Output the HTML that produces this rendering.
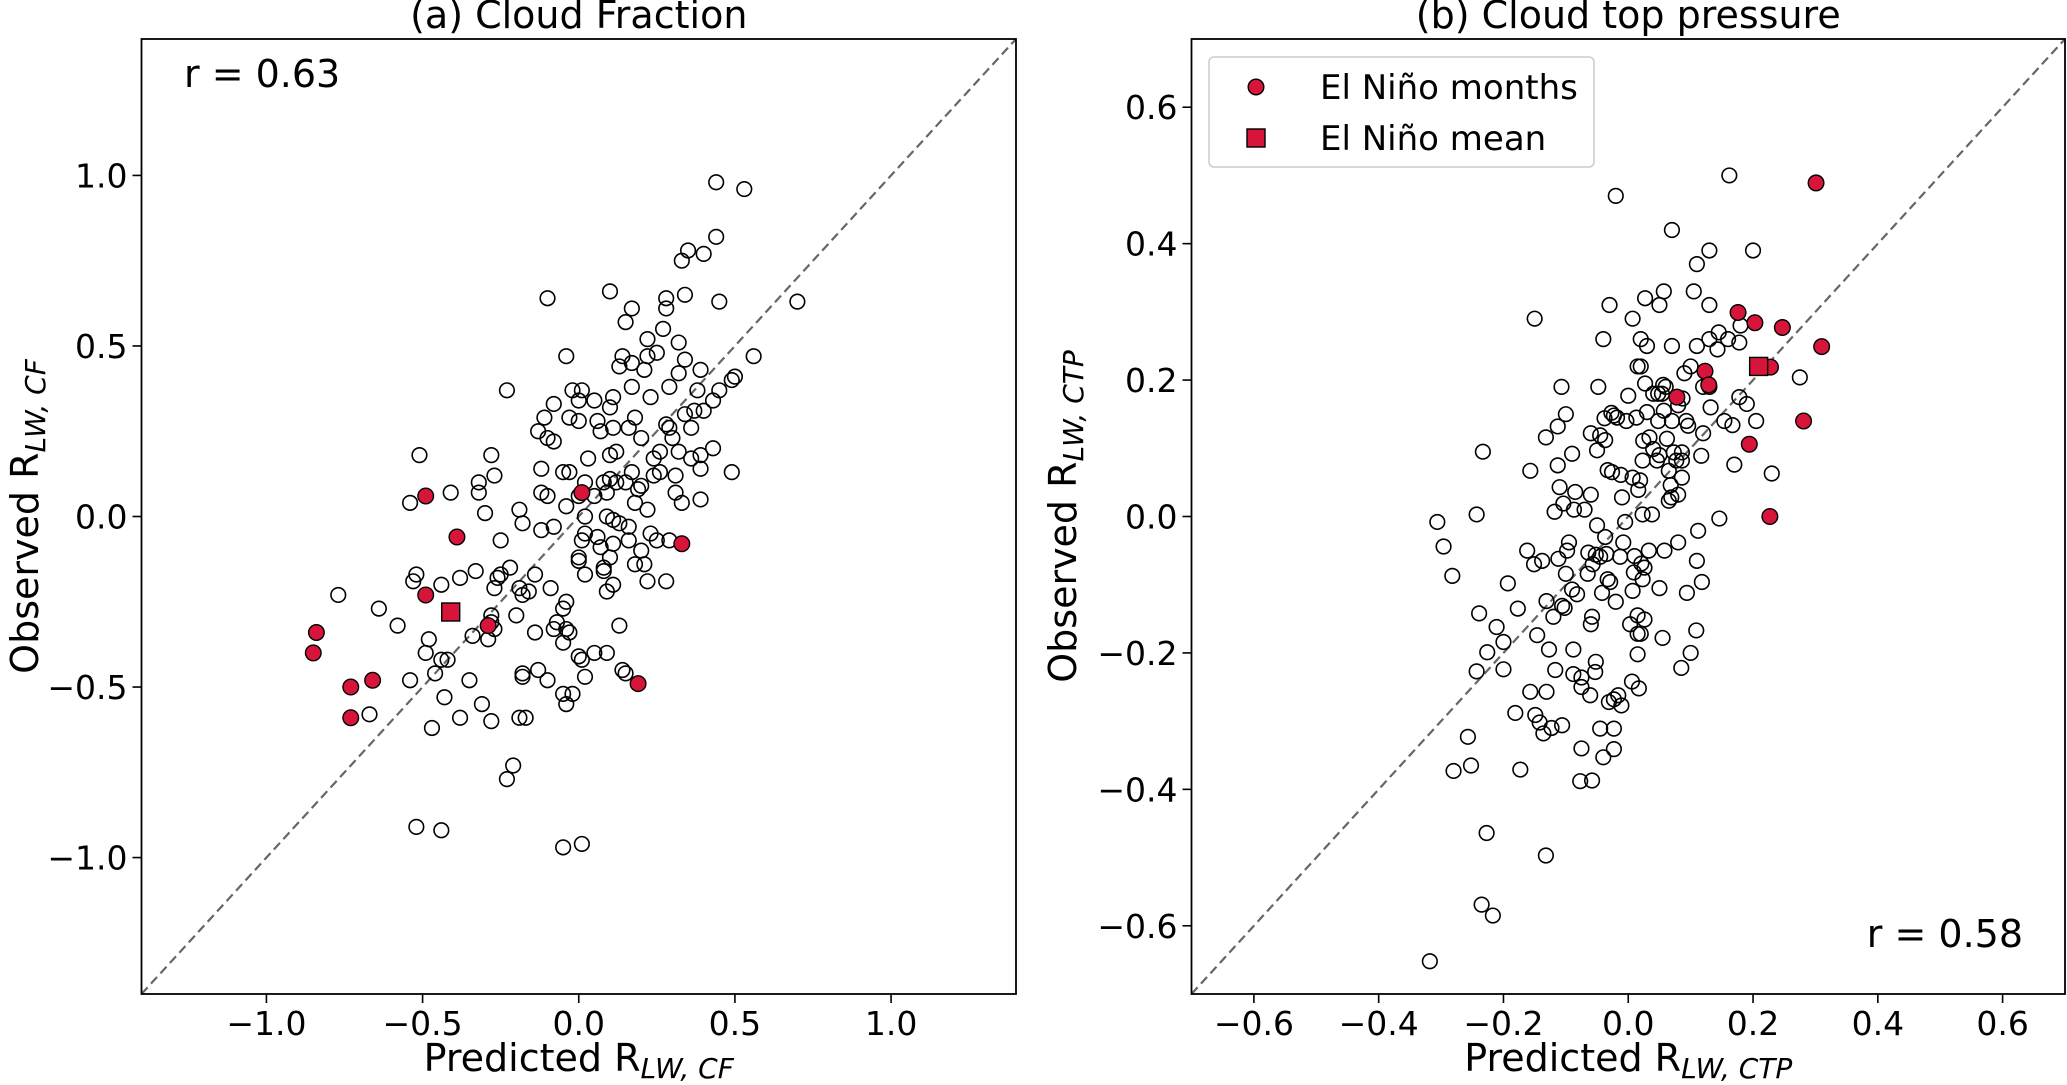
<!DOCTYPE html>
<html><head><meta charset="utf-8"><style>
html,body{margin:0;padding:0;background:#fff;}
svg{display:block;font-family:"DejaVu Sans","Liberation Sans",sans-serif;}
</style></head><body>
<svg id="fig" width="2067" height="1085" viewBox="0 0 2067 1085" xmlns="http://www.w3.org/2000/svg"></svg>
<script>
// Panel (a) Cloud Fraction data
const cfOpenX=[0.44,0.53,0.44,0.35,0.33,0.40,-0.10,0.10,0.28,0.34,0.45,0.70,0.17,0.28,0.15,0.27,0.22,0.32,-0.04,0.14,0.22,0.25,0.56,0.13,0.17,0.21,0.34,0.39,0.50,0.49,-0.23,-0.02,0.01,0.05,0.11,0,0.17,0.23,0.29,0.32,0.38,0.45,0.43,-0.08,0.10,0.37,0.40,-0.11,-0.03,0,0.06,0.18,0.16,0.28,0.29,0.34,0.36,-0.13,-0.10,-0.08,0.07,0.11,0.30,0.20,0.43,0.32,0.39,0.36,0.03,0.10,0.12,0.24,0.26,-0.12,-0.05,-0.03,0.17,0.24,0.26,0.31,0.39,0.49,0.02,0.08,0.10,0.12,0.15,0.19,0.20,-0.12,-0.10,0,0.05,0.09,0.31,0.33,0.39,0.18,-0.04,0.22,0.02,0.09,-0.19,-0.18,-0.12,-0.08,0.11,0.13,0.16,0.23,0.02,0.01,0.06,-0.25,0.11,0.07,0.16,0.25,0.20,0.29,0,0,0.10,0.08,0.08,0.18,0.21,0.02,0.11,0.22,0.28,0.09,-0.14,-0.09,-0.19,-0.18,-0.16,-0.26,-0.25,-0.27,-0.22,-0.38,-0.33,-0.44,-0.52,-0.53,-0.77,-0.64,-0.58,-0.20,-0.04,-0.05,-0.07,-0.08,-0.04,-0.03,-0.28,-0.28,-0.27,-0.29,-0.34,-0.14,0.13,-0.05,0.05,0.09,0,0.01,-0.48,-0.49,-0.44,-0.42,-0.46,-0.54,-0.35,-0.18,-0.18,-0.13,-0.10,0.02,0.14,0.15,-0.43,-0.05,-0.02,-0.04,-0.31,-0.67,-0.38,-0.28,-0.19,-0.17,-0.47,-0.21,-0.23,-0.52,-0.44,-0.05,0.01,-0.30,-0.27,-0.28,-0.32,-0.32,-0.41,-0.51,-0.54];
const cfOpenY=[0.98,0.96,0.82,0.78,0.75,0.77,0.64,0.66,0.64,0.65,0.63,0.63,0.61,0.61,0.57,0.55,0.52,0.51,0.47,0.47,0.47,0.48,0.47,0.44,0.45,0.43,0.46,0.43,0.41,0.40,0.37,0.37,0.37,0.34,0.35,0.34,0.38,0.35,0.38,0.42,0.37,0.37,0.34,0.33,0.32,0.31,0.31,0.29,0.29,0.28,0.28,0.29,0.26,0.27,0.26,0.30,0.26,0.25,0.23,0.22,0.25,0.26,0.23,0.23,0.20,0.19,0.18,0.17,0.17,0.18,0.19,0.17,0.19,0.14,0.13,0.13,0.13,0.12,0.13,0.12,0.14,0.13,0.10,0.10,0.11,0.10,0.10,0.08,0.09,0.07,0.06,0.06,0.06,0.07,0.07,0.04,0.05,0.04,0.03,0.02,0,0,0.02,-0.02,-0.04,-0.03,-0.01,-0.02,-0.03,-0.05,-0.05,-0.07,-0.06,-0.07,-0.08,-0.09,-0.07,-0.07,-0.10,-0.07,-0.12,-0.13,-0.12,-0.15,-0.16,-0.14,-0.14,-0.17,-0.20,-0.19,-0.19,-0.22,-0.17,-0.21,-0.21,-0.23,-0.22,-0.18,-0.17,-0.21,-0.15,-0.18,-0.16,-0.20,-0.17,-0.19,-0.23,-0.27,-0.32,-0.29,-0.25,-0.27,-0.31,-0.33,-0.33,-0.34,-0.29,-0.31,-0.33,-0.36,-0.35,-0.34,-0.32,-0.37,-0.40,-0.40,-0.41,-0.42,-0.36,-0.40,-0.42,-0.42,-0.46,-0.48,-0.48,-0.46,-0.47,-0.45,-0.48,-0.47,-0.45,-0.46,-0.53,-0.52,-0.52,-0.55,-0.55,-0.58,-0.59,-0.60,-0.59,-0.59,-0.62,-0.73,-0.77,-0.91,-0.92,-0.97,-0.96,0.01,0.12,0.18,0.10,0.07,0.07,0.18,0.04];
const cfRedX=[-0.49,0.01,-0.39,0.33,-0.49,-0.29,-0.84,-0.85,-0.66,-0.73,-0.73,0.19];
const cfRedY=[0.06,0.07,-0.06,-0.08,-0.23,-0.32,-0.34,-0.40,-0.48,-0.50,-0.59,-0.49];
const cfMean=[-0.41,-0.28];
const cfTicks=[-1.0,-0.5,0.0,0.5,1.0];
const cfTickLabels=["\u22121.0","\u22120.5","0.0","0.5","1.0"];

// Panel (b) Cloud top pressure data
const ctpOpenX=[0.162,-0.02,0.07,0.20,0.13,0.11,0.105,0.057,0.027,-0.03,0.05,0.13,0.007,-0.15,0.18,0.02,-0.04,0.03,0.07,0.11,0.13,0.145,0.16,0.178,0.143,0.10,0.015,0.02,0.09,-0.107,-0.048,0.027,0.056,0.06,0.275,0.12,0.13,0.04,0.048,0.054,0,0.087,0.08,0.178,0.19,-0.10,0.03,0.057,-0.027,-0.023,-0.018,-0.003,-0.038,-0.037,0.013,0.048,0.07,0.093,0.096,0.132,0.154,0.167,0.205,-0.113,-0.132,-0.06,-0.045,-0.05,0.024,0.034,0.062,0.12,-0.233,-0.09,0.04,0.05,0.073,0.086,0.086,0.023,0.046,0.077,0.117,-0.157,-0.113,-0.033,-0.026,-0.012,0.007,0.019,0.065,0.086,0.17,0.23,-0.11,-0.085,-0.06,0.016,-0.01,0.068,0.069,0.065,0.08,-0.104,-0.118,-0.087,-0.07,0.023,0.038,-0.243,-0.306,-0.296,-0.282,-0.05,-0.005,0.146,0.112,-0.095,-0.037,-0.008,0.08,-0.162,-0.098,-0.064,-0.052,-0.045,-0.035,-0.013,0.01,0.033,0.058,-0.151,-0.138,-0.112,-0.057,0.021,0.026,0.11,-0.1,-0.065,-0.033,-0.029,0.009,0.023,0.118,-0.193,-0.09,-0.082,-0.042,-0.02,0.007,0.05,0.094,-0.131,-0.106,-0.102,-0.177,-0.12,-0.058,0.015,0.003,0.026,-0.06,-0.239,-0.211,-0.2,-0.146,-0.127,-0.088,0.015,0.02,0.055,0.109,-0.226,0.015,0.1,-0.052,-0.243,-0.2,-0.117,-0.088,-0.053,0.085,-0.075,-0.075,-0.061,-0.157,-0.131,0.006,0.017,-0.016,-0.023,-0.031,-0.011,-0.181,-0.149,-0.142,-0.136,-0.106,-0.123,-0.045,-0.023,-0.257,-0.075,-0.023,-0.04,-0.252,-0.28,-0.173,-0.077,-0.058,-0.227,-0.132,-0.235,-0.217,-0.318];
const ctpOpenY=[0.50,0.47,0.42,0.39,0.39,0.37,0.33,0.33,0.32,0.31,0.31,0.31,0.29,0.29,0.28,0.26,0.26,0.25,0.25,0.25,0.26,0.27,0.26,0.255,0.245,0.22,0.22,0.22,0.21,0.19,0.19,0.195,0.193,0.19,0.204,0.19,0.19,0.18,0.18,0.18,0.177,0.173,0.163,0.175,0.165,0.15,0.153,0.155,0.152,0.148,0.145,0.14,0.144,0.112,0.145,0.14,0.14,0.14,0.133,0.16,0.14,0.134,0.14,0.132,0.116,0.122,0.119,0.097,0.111,0.116,0.114,0.122,0.095,0.092,0.099,0.09,0.094,0.094,0.082,0.082,0.082,0.082,0.089,0.067,0.075,0.068,0.065,0.061,0.057,0.053,0.067,0.057,0.076,0.063,0.043,0.036,0.032,0.039,0.028,0.046,0.028,0.023,0.032,0.019,0.007,0.01,0.01,0.003,0.003,0.003,-0.008,-0.044,-0.087,-0.013,-0.008,-0.003,-0.021,-0.038,-0.03,-0.038,-0.038,-0.05,-0.05,-0.053,-0.056,-0.059,-0.055,-0.059,-0.058,-0.05,-0.05,-0.07,-0.065,-0.062,-0.07,-0.069,-0.075,-0.065,-0.084,-0.084,-0.092,-0.096,-0.082,-0.092,-0.096,-0.098,-0.107,-0.114,-0.112,-0.125,-0.109,-0.105,-0.112,-0.124,-0.131,-0.134,-0.135,-0.147,-0.147,-0.145,-0.158,-0.151,-0.158,-0.142,-0.162,-0.184,-0.174,-0.195,-0.195,-0.172,-0.172,-0.178,-0.167,-0.199,-0.202,-0.2,-0.213,-0.227,-0.224,-0.225,-0.231,-0.228,-0.222,-0.236,-0.25,-0.262,-0.257,-0.257,-0.242,-0.252,-0.262,-0.268,-0.272,-0.277,-0.288,-0.291,-0.302,-0.318,-0.306,-0.31,-0.311,-0.311,-0.323,-0.34,-0.341,-0.353,-0.365,-0.373,-0.371,-0.388,-0.387,-0.464,-0.497,-0.569,-0.585,-0.652];
const ctpRedX=[0.301,0.176,0.203,0.247,0.31,0.123,0.129,0.078,0.228,0.281,0.194,0.227];
const ctpRedY=[0.489,0.299,0.284,0.277,0.249,0.213,0.193,0.175,0.219,0.14,0.106,0.0];
const ctpMean=[0.209,0.22];
const ctpTicks=[-0.6,-0.4,-0.2,0.0,0.2,0.4,0.6];
const ctpTickLabels=["\u22120.6","\u22120.4","\u22120.2","0.0","0.2","0.4","0.6"];

const NS="http://www.w3.org/2000/svg";
const svg=document.getElementById('fig');
function mk(tag,attrs,parent){const e=document.createElementNS(NS,tag);for(const k in attrs)e.setAttribute(k,attrs[k]);(parent||svg).appendChild(e);return e;}
const RED="#d7153a";
const FS=33, BIG=38;

function panel(cfg){
  const g=mk('g',{});
  
  
  const sx=v=>cfg.x0+(v-cfg.min)/(cfg.max-cfg.min)*(cfg.x1-cfg.x0);
  const sy=v=>cfg.y1-(v-cfg.min)/(cfg.max-cfg.min)*(cfg.y1-cfg.y0);
  const d=mk('line',{x1:sx(cfg.min),y1:sy(cfg.min),x2:sx(cfg.max),y2:sy(cfg.max),stroke:'#666',"stroke-width":2.2,"stroke-dasharray":"9,5"},g);
  
  
  cfg.ticks.forEach((t,i)=>{
    const tx=mk('line',{x1:sx(t),x2:sx(t),y1:cfg.y1,y2:cfg.y1+9,stroke:'#000',"stroke-width":1.6},g);
    
    
    const lx=mk('text',{x:sx(t),y:cfg.y1+41,"font-size":FS,"text-anchor":"middle"},g);
    lx.textContent=cfg.labels[i];
    
    
    const ty=mk('line',{x1:cfg.x0-9,x2:cfg.x0,y1:sy(t),y2:sy(t),stroke:'#000',"stroke-width":1.6},g);
    
    
    const ly=mk('text',{x:cfg.x0-14,y:sy(t)+12,"font-size":FS,"text-anchor":"end"},g);
    ly.textContent=cfg.labels[i];
    
    
  });
  cfg.ox.forEach((v,i)=>{
    const c=mk('circle',{cx:sx(v),cy:sy(cfg.oy[i]),r:7.3,fill:'none',stroke:'#000',"stroke-width":1.6},g);
    
    
  });
  cfg.rx.forEach((v,i)=>{
    const c=mk('circle',{cx:sx(v),cy:sy(cfg.ry[i]),r:7.8,fill:RED,stroke:'#000',"stroke-width":1.4},g);
    
    
  });
  const m=mk('rect',{x:sx(cfg.mean[0])-9,y:sy(cfg.mean[1])-9,width:18,height:18,fill:RED,stroke:'#000',"stroke-width":1.4},g);
  
  
  const f=mk('rect',{x:cfg.x0,y:cfg.y0,width:cfg.x1-cfg.x0,height:cfg.y1-cfg.y0,fill:'none',stroke:'#000',"stroke-width":1.8},g);
  
  
  const cx=(cfg.x0+cfg.x1)/2;
  const ti=mk('text',{x:cx,y:28,"font-size":BIG,"text-anchor":"middle"},g);
  ti.textContent=cfg.title;
  
  
  const xl=mk('text',{x:cx,y:1071,"font-size":BIG,"text-anchor":"middle"},g);
  xl.innerHTML='Predicted R<tspan font-style="italic" font-size="28" dy="7">'+cfg.sub+'</tspan>';
  
  
  const yl=mk('text',{x:0,y:0,"font-size":BIG,"text-anchor":"middle",transform:'translate('+cfg.ylx+','+((cfg.y0+cfg.y1)/2)+') rotate(-90)'},g);
  yl.innerHTML='Observed R<tspan font-style="italic" font-size="28" dy="7">'+cfg.sub+'</tspan>';
  
  
  const rt=mk('text',{x:cfg.rX,y:cfg.rY,"font-size":BIG,"text-anchor":cfg.rAnchor},g);
  rt.textContent=cfg.rText;
  
  
}
panel({name:'panel-cloud-fraction',x0:141.5,x1:1016,y0:39,y1:994,min:-1.4,max:1.4,ticks:cfTicks,labels:cfTickLabels,ox:cfOpenX,oy:cfOpenY,rx:cfRedX,ry:cfRedY,mean:cfMean,title:'(a) Cloud Fraction',sub:'LW, CF',ylx:38,rText:'r = 0.63',rX:184,rY:87,rAnchor:'start'});
panel({name:'panel-cloud-top-pressure',x0:1191.5,x1:2065,y0:39,y1:994,min:-0.7,max:0.7,ticks:ctpTicks,labels:ctpTickLabels,ox:ctpOpenX,oy:ctpOpenY,rx:ctpRedX,ry:ctpRedY,mean:ctpMean,title:'(b) Cloud top pressure',sub:'LW, CTP',ylx:1076,rText:'r = 0.58',rX:2023,rY:947,rAnchor:'end'});

const lg=mk('g',{});


mk('rect',{x:1209,y:57,width:385,height:110,rx:5,fill:'#fff',stroke:'#ccc',"stroke-width":1.5},lg);
const lc=mk('circle',{cx:1256,cy:87,r:7.8,fill:RED,stroke:'#000',"stroke-width":1.4},lg);


const l1=mk('text',{x:1320,y:99,"font-size":34},lg);
l1.textContent='El Niño months';


const ls=mk('rect',{x:1247,y:129,width:18,height:18,fill:RED,stroke:'#000',"stroke-width":1.4},lg);


const l2=mk('text',{x:1320,y:150,"font-size":34},lg);
l2.textContent='El Niño mean';


</script>
</body></html>
